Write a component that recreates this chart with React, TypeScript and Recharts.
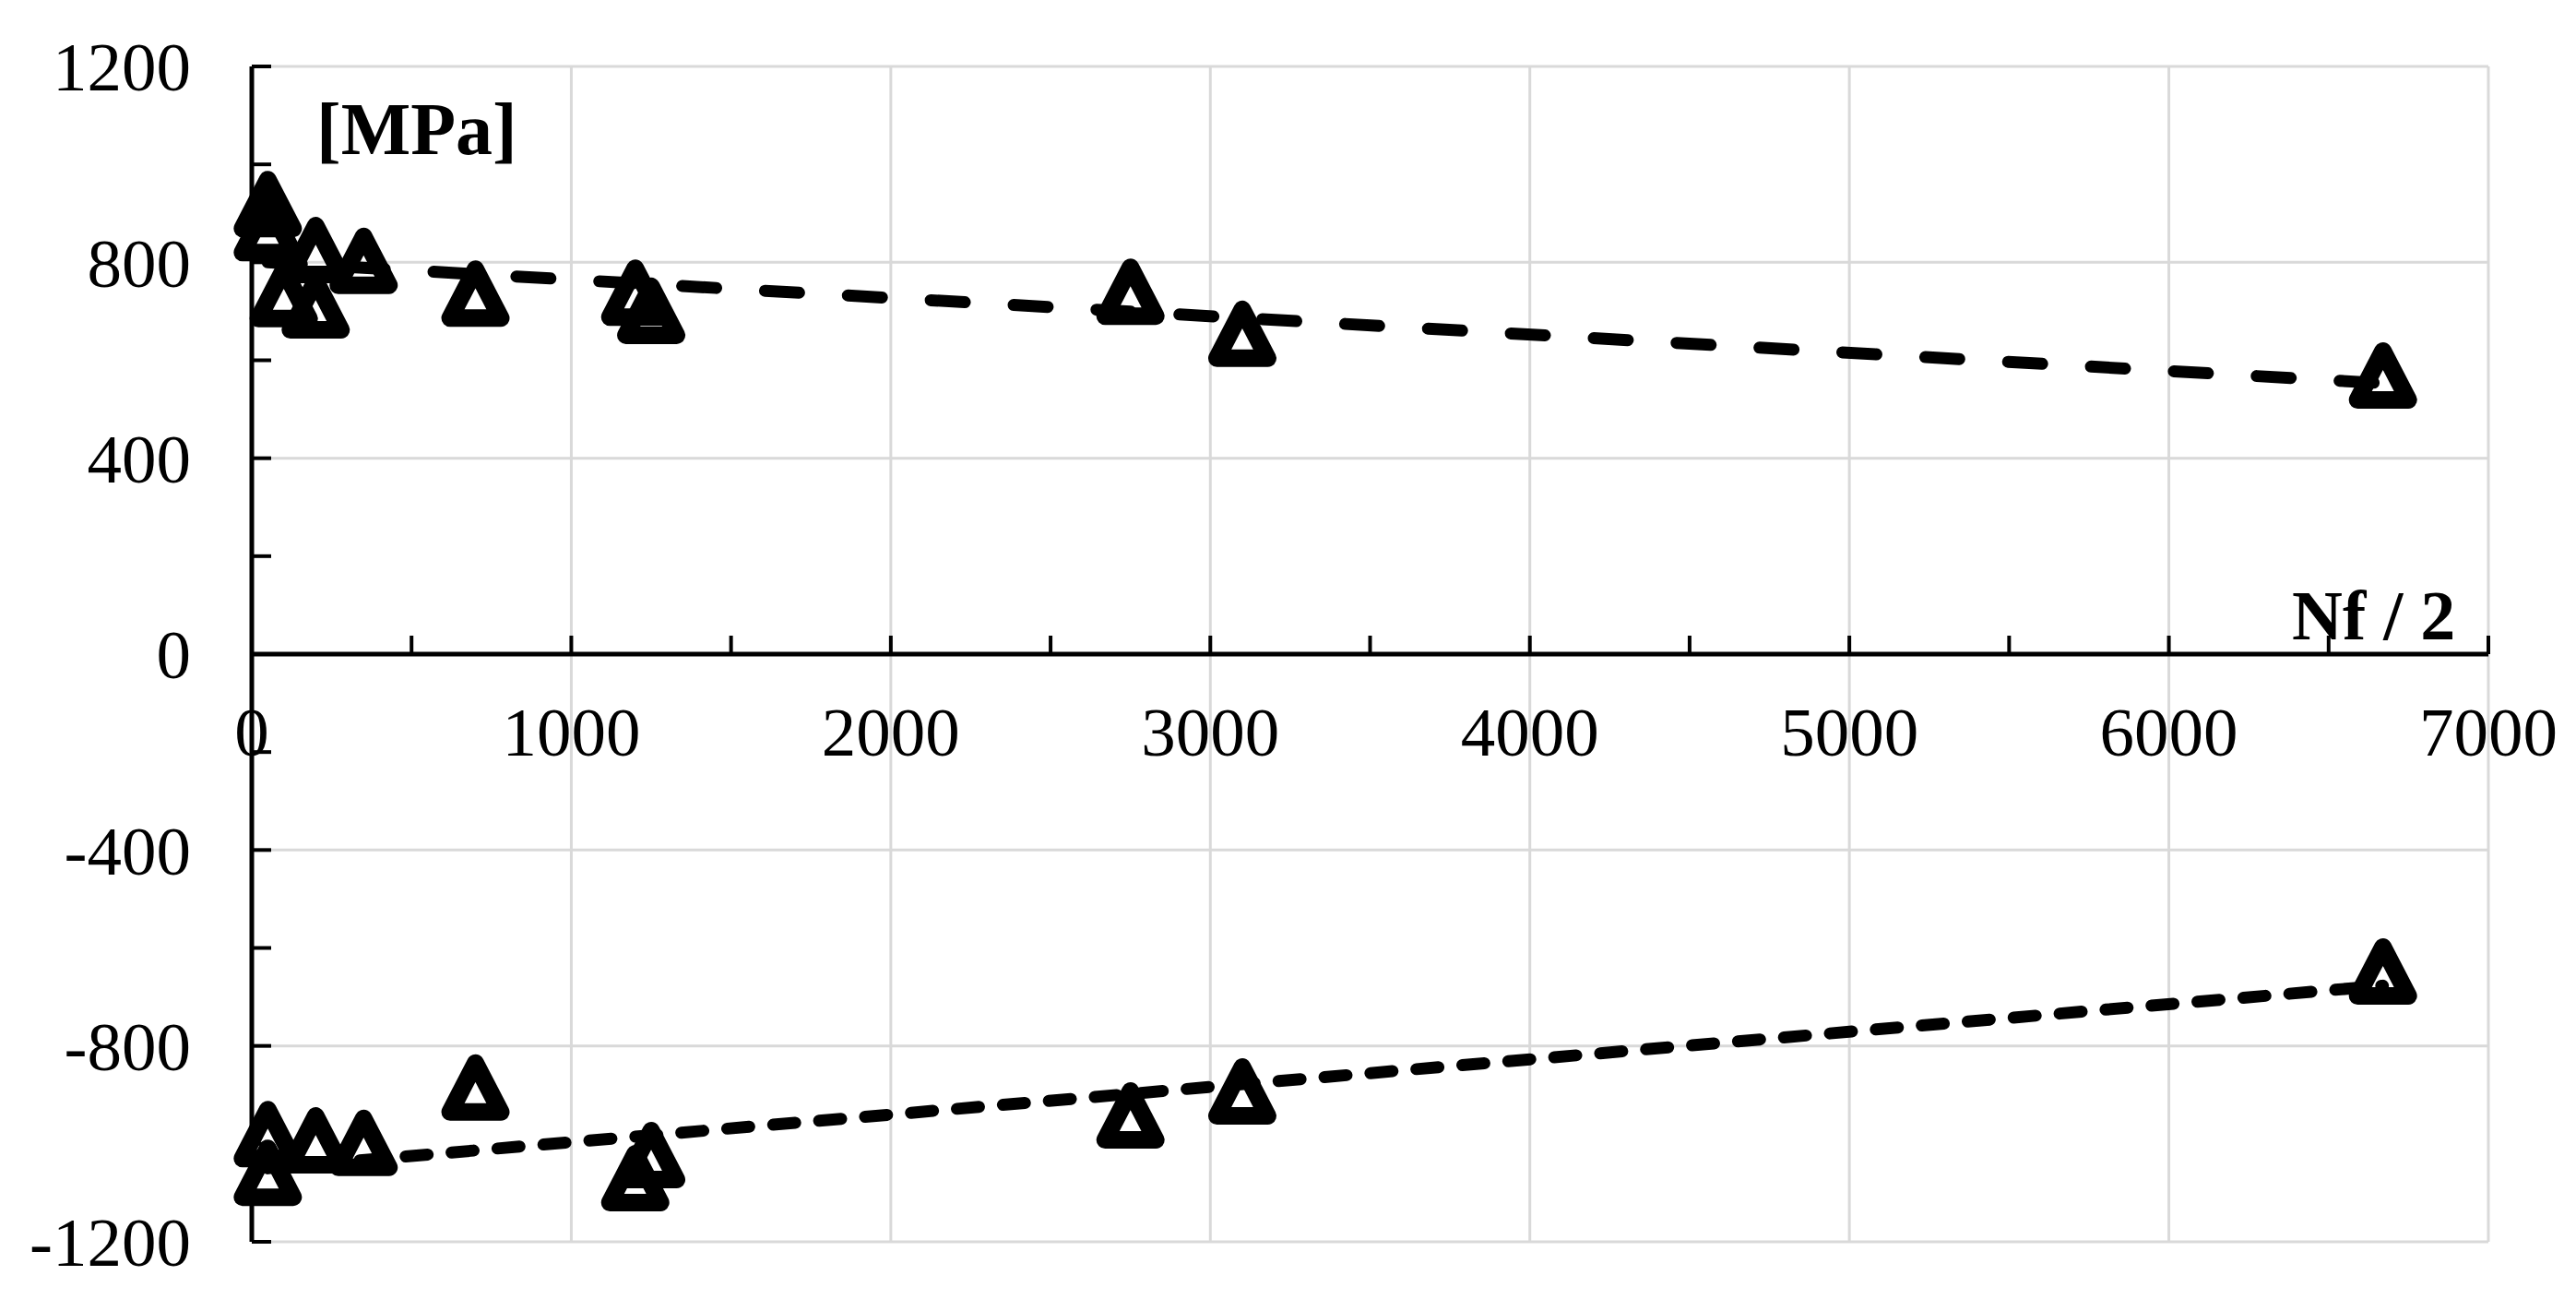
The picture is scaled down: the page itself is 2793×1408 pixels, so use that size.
import React from "react";
import {
  ScatterChart,
  Scatter,
  XAxis,
  YAxis,
  CartesianGrid,
  ReferenceLine,
} from "recharts";

// half-life cycles (Nf/2) and stress peaks
const cyclesMax = [50, 50, 100, 200, 200, 350, 700, 1200, 1250, 2750, 3100, 6670];
const stressMax = [919, 870, 735, 825, 712, 803, 736, 738, 701, 740, 654, 569];

const cyclesMin = [50, 50, 200, 350, 700, 1200, 1250, 2750, 3100, 6670];
const stressMin = [-980, -1059, -993, -998, -885, -1070, -1023, -942, -893, -648];

// dashed trend lines, end points as drawn
const trendMaxCycles = [50, 6670];
const trendMaxStress = [800, 553];
const trendMinCycles = [50, 6670];
const trendMinStress = [-1050, -677];

const xMajorTicks = [0, 1000, 2000, 3000, 4000, 5000, 6000, 7000];
const xMinorTicks = [0, 500, 1000, 1500, 2000, 2500, 3000, 3500, 4000, 4500, 5000, 5500, 6000, 6500, 7000];
const yMajorTicks = [-1200, -800, -400, 0, 400, 800, 1200];
const yMinorTicks = [-1200, -1000, -800, -600, -400, -200, 0, 200, 400, 600, 800, 1000, 1200];

const zip = (xs: number[], ys: number[]) => xs.map((n, i) => ({ n, s: ys[i] }));

const maxData = zip(cyclesMax, stressMax);
const minData = zip(cyclesMin, stressMin);
const trendMax = zip(trendMaxCycles, trendMaxStress);
const trendMin = zip(trendMinCycles, trendMinStress);

const W = 2793;
const H = 1408;
// two 1px axes on each side are added to these
const margin = { top: 72, right: 95, bottom: 60, left: 271 };
const plotH = 1274;
const FONT = '"Liberation Serif", "Times New Roman", serif';

const Triangle = (props: any) => {
  const { cx, cy } = props;
  if (cx == null || cy == null) return <g />;
  const hw = 27.5;
  const hh = 26.5;
  return (
    <path
      d={`M${cx},${cy - hh} L${cx + hw},${cy + hh} L${cx - hw},${cy + hh} Z`}
      fill="none"
      stroke="#000"
      strokeWidth={19}
      strokeLinejoin="round"
    />
  );
};

const NoDot = () => <g />;

// x labels sit under the zero line, not at the bottom of the plot
const XLabel = (props: any) => {
  const { x, y, payload } = props;
  return (
    <text x={x} y={y - plotH / 2 + 110} textAnchor="middle" fontSize={75} fontFamily={FONT} fill="#000">
      {payload.value}
    </text>
  );
};

const XMinor = (props: any) => {
  const { x, y } = props;
  const y0 = y - 1 - plotH / 2;
  return <line x1={x} x2={x} y1={y0} y2={y0 - 20} stroke="#000" strokeWidth={4} />;
};

const YLabel = (props: any) => {
  const { x, y, payload } = props;
  return (
    <text x={x - 66} y={y} dy="0.35em" textAnchor="end" fontSize={75} fontFamily={FONT} fill="#000">
      {payload.value}
    </text>
  );
};

const YMinor = (props: any) => {
  const { x, y } = props;
  return <line x1={x + 1} x2={x + 22} y1={y} y2={y} stroke="#000" strokeWidth={4} />;
};

const App: React.FC = () => {
  return (
    <div style={{ position: "absolute", left: 0, top: 0, width: W, height: H, background: "#fff" }}>
      <ScatterChart width={W} height={H} margin={margin}>
        <XAxis
          xAxisId="x"
          type="number"
          dataKey="n"
          domain={[0, 7000]}
          ticks={xMajorTicks}
          interval={0}
          height={1}
          axisLine={false}
          tickLine={false}
          tickSize={0}
          tickMargin={0}
          tick={(p: any) => <XLabel {...p} />}
        />
        <XAxis
          xAxisId="xm"
          type="number"
          dataKey="n"
          domain={[0, 7000]}
          ticks={xMinorTicks}
          interval={0}
          height={1}
          axisLine={false}
          tickLine={false}
          tickSize={0}
          tickMargin={0}
          tick={(p: any) => <XMinor {...p} />}
        />
        <YAxis
          yAxisId="y"
          type="number"
          dataKey="s"
          domain={[-1200, 1200]}
          ticks={yMajorTicks}
          interval={0}
          width={1}
          axisLine={{ stroke: "#000", strokeWidth: 5 }}
          tickLine={false}
          tickSize={0}
          tickMargin={0}
          tick={(p: any) => <YLabel {...p} />}
        />
        <YAxis
          yAxisId="ym"
          type="number"
          dataKey="s"
          domain={[-1200, 1200]}
          ticks={yMinorTicks}
          interval={0}
          width={1}
          axisLine={false}
          tickLine={false}
          tickSize={0}
          tickMargin={0}
          tick={(p: any) => <YMinor {...p} />}
        />
        <CartesianGrid xAxisId="x" yAxisId="y" stroke="#d9d9d9" strokeWidth={3} />
        <ReferenceLine xAxisId="x" yAxisId="y" y={0} stroke="#000" strokeWidth={5} />
        <Scatter
          xAxisId="xm"
          yAxisId="ym"
          data={trendMax}
          shape={NoDot}
          line={{ stroke: "#000", strokeWidth: 13, strokeDasharray: "37 53", strokeLinecap: "round" }}
          isAnimationActive={false}
        />
        <Scatter
          xAxisId="xm"
          yAxisId="ym"
          data={trendMin}
          shape={NoDot}
          line={{ stroke: "#000", strokeWidth: 13, strokeDasharray: "24 26", strokeLinecap: "round" }}
          isAnimationActive={false}
        />
        <Scatter xAxisId="x" yAxisId="y" data={maxData} shape={Triangle} isAnimationActive={false} />
        <Scatter xAxisId="x" yAxisId="y" data={minData} shape={Triangle} isAnimationActive={false} />
      </ScatterChart>
      <svg
        width={W}
        height={H}
        style={{ position: "absolute", left: 0, top: 0, pointerEvents: "none" }}
      >
        <text x={343} y={167} fontSize={80} fontWeight="bold" fontFamily={FONT} fill="#000">
          [MPa]
        </text>
        <text x={2485} y={693} fontSize={76} fontWeight="bold" fontFamily={FONT} fill="#000">
          Nf / 2
        </text>
      </svg>
    </div>
  );
};

export default App;
